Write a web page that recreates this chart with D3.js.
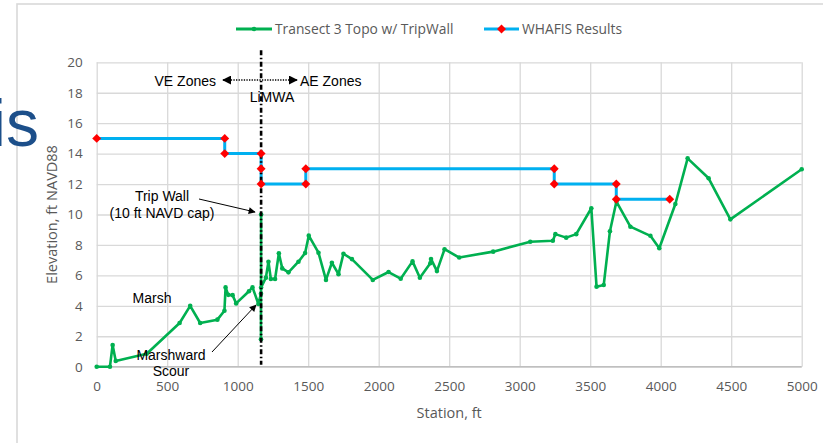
<!DOCTYPE html>
<html>
<head>
<meta charset="utf-8">
<title>Transect 3 WHAFIS</title>
<script src="https://d3js.org/d3.v7.min.js"></script>
<style>
    html, body {
        margin: 0;
        padding: 0;
        background: white;
        overflow: hidden;
    }
    .tick text {
        font-family: "Open Sans", sans-serif;
        fill: #595959;
    }
    .note {
        font-family: "Liberation Sans", Arial, sans-serif;
        font-size: 14px;
        fill: #000;
    }
</style>
</head>
<body>
<div id="graph"></div>

<script>
    // topo profile (station ft, elevation ft NAVD88)
    var topoStation = [0, 94, 113, 135, 355, 588, 663, 734, 856, 906, 914, 933, 964, 989, 1080, 1105, 1147,
        1165, 1165, 1166, 1166, 1200, 1218, 1235, 1265, 1292, 1316, 1360, 1431, 1478, 1504, 1573, 1626,
        1668, 1715, 1750, 1810, 1958, 2070, 2156, 2240, 2292, 2366, 2371, 2413, 2467, 2571, 2812, 3075,
        3235, 3253, 3330, 3401, 3508, 3545, 3596, 3640, 3686, 3785, 3927, 3990, 4104, 4191, 4340, 4494, 5000];
    var topoElev = [0, 0, 1.43, 0.38, 0.85, 2.87, 4.0, 2.87, 3.09, 3.68, 5.21, 4.72, 4.7, 4.16, 4.96, 5.21, 4.12,
        4.8, 1.8, 10, 5.2, 5.85, 6.9, 5.76, 5.76, 7.45, 6.46, 6.2, 6.9, 7.47, 8.61, 7.49, 5.7,
        6.83, 6.08, 7.42, 7.07, 5.7, 6.22, 5.78, 6.92, 5.84, 6.8, 7.08, 6.28, 7.72, 7.17, 7.56, 8.21,
        8.28, 8.71, 8.48, 8.71, 10.41, 5.26, 5.37, 8.9, 10.85, 9.2, 8.6, 7.78, 10.69, 13.69, 12.38, 9.68, 12.97];

    // WHAFIS wave crest steps
    var whafisStation = [0, 908, 908, 1166, 1166, 1166, 1483, 1483, 3245, 3245, 3685, 3685, 4064];
    var whafisElev = [15, 15, 14, 14, 13, 12, 12, 13, 13, 12, 12, 11, 11];

    var xTicks = [0, 500, 1000, 1500, 2000, 2500, 3000, 3500, 4000, 4500, 5000];
    var yTicks = [0, 2, 4, 6, 8, 10, 12, 14, 16, 18, 20];

    var limwaStation = 1166;
    var seriesNames = ["Transect 3 Topo w/ TripWall", "WHAFIS Results"];

    var topoColor = "#00b050";
    var whafisColor = "#00b0f0";
    var diamondColor = "#ff0000";
    var gridColor = "#d9d9d9";

    var W = 823, H = 443;
    var margin = {top: 62.3, right: 21.3, bottom: 76.3, left: 96.7},
        width = W - margin.left - margin.right,
        height = H - margin.top - margin.bottom;

    var svg = d3.select("#graph")
        .append("svg")
            .attr("width", W)
            .attr("height", H);

    // outer chart frame (runs off the right/bottom of the view)
    svg.append("rect")
        .attr("x", 17).attr("y", 4)
        .attr("width", 900).attr("height", 500)
        .attr("fill", "none")
        .attr("stroke", gridColor)
        .attr("stroke-width", 1.6);

    var g = svg.append("g")
        .attr("transform", "translate(" + margin.left + "," + margin.top + ")");

    var x = d3.scaleLinear().domain([0, 5000]).range([0, width]);
    var y = d3.scaleLinear().domain([0, 20]).range([height, 0]);

    // gridlines + tick labels
    var yAxis = d3.axisLeft(y).tickValues(yTicks).tickSize(-width).tickPadding(14);
    g.append("g").call(yAxis)
        .call(function(s) {
            s.select(".domain").remove();
            s.selectAll(".tick line").attr("stroke", gridColor).attr("stroke-width", 1.3);
            s.selectAll(".tick text").style("font-size", "13.5px");
        });

    var xAxis = d3.axisBottom(x).tickValues(xTicks).tickFormat(d3.format("d")).tickSize(-height).tickPadding(15);
    g.append("g").attr("transform", "translate(0," + height + ")").call(xAxis)
        .call(function(s) {
            s.select(".domain").remove();
            s.selectAll(".tick line").attr("stroke", gridColor).attr("stroke-width", 1.3);
            s.selectAll(".tick text").style("font-size", "13.5px");
        });

    // baseline at 0
    g.append("line")
        .attr("x1", 0).attr("x2", width)
        .attr("y1", y(0)).attr("y2", y(0))
        .attr("stroke", "#bfbfbf").attr("stroke-width", 1.6);

    // axis titles
    svg.append("text")
        .attr("x", margin.left + width / 2).attr("y", 418)
        .attr("text-anchor", "middle")
        .style("font-family", "Open Sans, sans-serif").style("font-size", "14.5px")
        .attr("fill", "#595959")
        .text("Station, ft");

    svg.append("text")
        .attr("transform", "translate(57," + (margin.top + height / 2) + ") rotate(-90)")
        .attr("text-anchor", "middle")
        .style("font-family", "Open Sans, sans-serif").style("font-size", "14.5px")
        .attr("fill", "#595959")
        .text("Elevation, ft NAVD88");

    // whafis step line
    var whafis = whafisStation.map(function(d, i) { return [d, whafisElev[i]]; });
    var topo = topoStation.map(function(d, i) { return [d, topoElev[i]]; });

    var line = d3.line()
        .x(function(d) { return x(d[0]); })
        .y(function(d) { return y(d[1]); });

    g.append("path")
        .datum(whafis)
        .attr("d", line)
        .attr("fill", "none")
        .attr("stroke", whafisColor)
        .attr("stroke-width", 3)
        .attr("stroke-linejoin", "round");

    // topo
    g.append("path")
        .datum(topo)
        .attr("d", line)
        .attr("fill", "none")
        .attr("stroke", topoColor)
        .attr("stroke-width", 2.6)
        .attr("stroke-linejoin", "round");

    g.selectAll(".topoDot")
        .data(topo)
        .enter()
        .append("circle")
            .attr("class", "topoDot")
            .attr("cx", function(d) { return x(d[0]); })
            .attr("cy", function(d) { return y(d[1]); })
            .attr("r", 2.3)
            .attr("fill", topoColor);

    // LiMWA dash-dot line
    g.append("line")
        .attr("x1", x(limwaStation)).attr("x2", x(limwaStation))
        .attr("y1", -12).attr("y2", height - 2)
        .attr("stroke", "#000")
        .attr("stroke-width", 2.6)
        .attr("stroke-dasharray", "5,2.5,1.5,2.5");

    var diamond = d3.symbol().type(d3.symbolSquare).size(40);
    g.selectAll(".diamond")
        .data(whafis)
        .enter()
        .append("path")
            .attr("class", "diamond")
            .attr("d", diamond)
            .attr("transform", function(d) { return "translate(" + x(d[0]) + "," + y(d[1]) + ") rotate(45)"; })
            .attr("fill", diamondColor);

    // arrowheads
    var defs = svg.append("defs");
    defs.append("marker")
        .attr("id", "head")
        .attr("viewBox", "0 0 10 10")
        .attr("refX", 9).attr("refY", 5)
        .attr("markerWidth", 9).attr("markerHeight", 9)
        .attr("markerUnits", "userSpaceOnUse")
        .attr("orient", "auto-start-reverse")
        .append("path")
            .attr("d", "M0,0L10,5L0,10Z")
            .attr("fill", "#000");
    defs.append("marker")
        .attr("id", "headSmall")
        .attr("viewBox", "0 0 10 10")
        .attr("refX", 9).attr("refY", 5)
        .attr("markerWidth", 8).attr("markerHeight", 7)
        .attr("markerUnits", "userSpaceOnUse")
        .attr("orient", "auto")
        .append("path")
            .attr("d", "M0,0L10,5L0,10Z")
            .attr("fill", "#000");

    // zone annotations
    svg.append("line")
        .attr("x1", 223).attr("x2", 297).attr("y1", 80).attr("y2", 80)
        .attr("stroke", "#000").attr("stroke-width", 1.3)
        .attr("stroke-dasharray", "1.3,1.3")
        .attr("marker-start", "url(#head)")
        .attr("marker-end", "url(#head)");

    svg.append("text").attr("class", "note").attr("x", 216).attr("y", 86).attr("text-anchor", "end").text("VE Zones");
    svg.append("text").attr("class", "note").attr("x", 300).attr("y", 86).text("AE Zones");
    svg.append("text").attr("class", "note").attr("x", 272).attr("y", 102).attr("text-anchor", "middle").text("LiMWA");

    svg.append("text").attr("class", "note").attr("x", 162).attr("y", 201).attr("text-anchor", "middle").text("Trip Wall");
    svg.append("text").attr("class", "note").attr("x", 162).attr("y", 218).attr("text-anchor", "middle").text("(10 ft NAVD cap)");
    svg.append("line")
        .attr("x1", 199).attr("y1", 199).attr("x2", 255).attr("y2", 212)
        .attr("stroke", "#000").attr("stroke-width", 1)
        .attr("marker-end", "url(#headSmall)");

    svg.append("text").attr("class", "note").attr("x", 152).attr("y", 303).attr("text-anchor", "middle").text("Marsh");
    svg.append("text").attr("class", "note").attr("x", 171).attr("y", 360).attr("text-anchor", "middle").text("Marshward");
    svg.append("text").attr("class", "note").attr("x", 171).attr("y", 376).attr("text-anchor", "middle").text("Scour");
    svg.append("line")
        .attr("x1", 212).attr("y1", 352).attr("x2", 256).attr("y2", 305)
        .attr("stroke", "#000").attr("stroke-width", 1)
        .attr("marker-end", "url(#headSmall)");

    // legend
    var legend = svg.append("g").attr("transform", "translate(0,29)");
    legend.append("line").attr("x1", 236).attr("x2", 272).attr("y1", 0).attr("y2", 0)
        .attr("stroke", topoColor).attr("stroke-width", 3);
    legend.append("circle").attr("cx", 254).attr("cy", 0).attr("r", 2.3).attr("fill", topoColor);
    legend.append("text").attr("x", 275).attr("dy", "0.35em")
        .style("font-family", "Open Sans, sans-serif").style("font-size", "13.8px")
        .attr("fill", "#595959").text(seriesNames[0]);

    legend.append("line").attr("x1", 484).attr("x2", 519).attr("y1", 0).attr("y2", 0)
        .attr("stroke", whafisColor).attr("stroke-width", 3);
    legend.append("path").attr("d", diamond).attr("transform", "translate(501.5,0) rotate(45)").attr("fill", diamondColor);
    legend.append("text").attr("x", 522).attr("dy", "0.35em")
        .style("font-family", "Open Sans, sans-serif").style("font-size", "13.8px")
        .attr("fill", "#595959").text(seriesNames[1]);

    // slide title fragment behind the chart
    svg.append("text")
        .attr("x", 39).attr("y", 146)
        .attr("text-anchor", "end")
        .style("font-family", "Liberation Sans, Arial, sans-serif")
        .style("font-size", "66px")
        .attr("fill", "#1c4f8a")
        .text("is");
</script>
</body>
</html>
